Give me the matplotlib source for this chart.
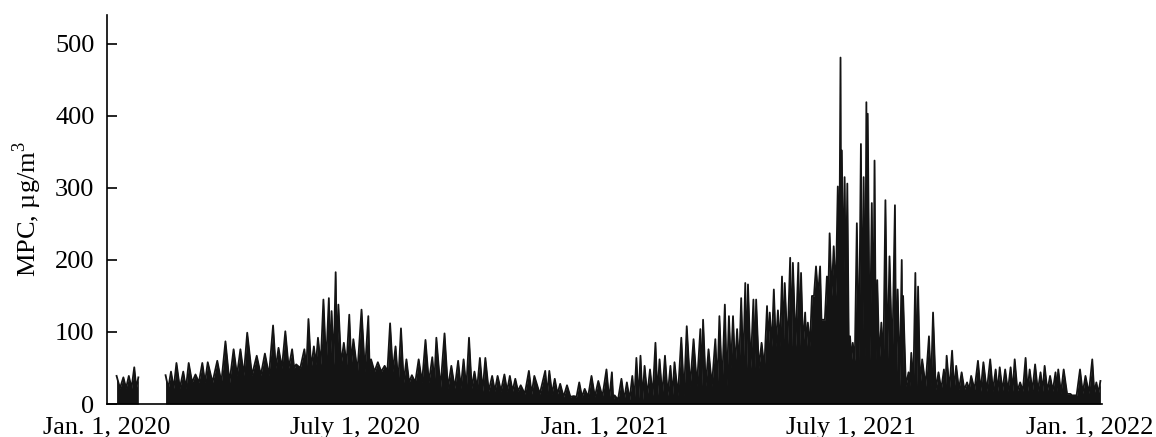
"""
MPC time series, Jan 2020 - Jan 2022, drawn as a dense spiky black trace.
"""
import numpy as np
import matplotlib
matplotlib.use("Agg")
import matplotlib.pyplot as plt

plt.rcParams['font.family'] = ['Liberation Serif', 'DejaVu Serif']
plt.rcParams['mathtext.fontset'] = 'custom'
plt.rcParams['mathtext.rm'] = 'Liberation Serif'

START = np.datetime64('2020-01-01')

# local maxima: day offset from Jan 1 2020, value in ug/m3
PEAK_DAYS_2020 = [7, 12, 16, 20, 23,
                  43, 47, 51, 56, 60, 65, 70, 74, 81, 87, 93, 98, 103, 110, 116,
                  122, 126, 131, 136, 139, 145, 148, 152, 155, 159, 163, 165, 168,
                  170, 174, 178, 181, 187, 192, 194, 199, 204, 208, 212, 216, 220,
                  224, 229, 234, 239, 242, 248, 253, 258, 262, 266, 270, 274, 278,
                  283, 287, 292, 296, 300, 304, 310, 314, 322, 325, 329, 333, 338,
                  343, 347, 351, 356, 361]
PEAK_VALS_2020 = [39, 37, 39, 51, 37,
                  40, 45, 57, 45, 57, 41, 57, 58, 60, 87, 76, 76, 99, 67, 70,
                  109, 78, 101, 76, 55, 76, 118, 80, 92, 145, 147, 129, 183,
                  138, 85, 124, 90, 131, 122, 62, 58, 53, 112, 80, 105, 62,
                  40, 62, 89, 65, 92, 98, 53, 60, 62, 92, 45, 64, 64,
                  39, 39, 41, 39, 35, 26, 46, 39, 46, 46, 35, 28, 26,
                  11, 30, 21, 39, 32]

PEAK_DAYS_2021 = [367, 371, 373, 378, 382, 386, 389, 392, 395, 399, 403, 406,
                  410, 414, 417, 422, 426, 431, 436, 438, 442, 447, 450, 454,
                  457, 460, 463, 466, 469, 471, 475, 477, 481, 485, 487, 490,
                  493, 496, 498, 502, 504, 508, 510, 513, 515, 518, 521, 524,
                  526, 529, 531, 534, 537, 539, 540, 542, 544, 546, 548, 551,
                  554, 556, 558, 559, 562, 564, 566, 569, 572, 575, 579, 581,
                  584, 585, 589, 591, 594, 596, 599, 604, 607, 611, 615, 617,
                  621, 624, 628, 632, 635, 640, 644, 649, 653, 656, 660, 664,
                  667, 671, 675, 678, 682, 686, 689, 693, 697, 699, 703, 708,
                  710, 715, 719, 724, 727, 730]
PEAK_VALS_2021 = [48, 44, 12, 35, 30, 39, 64, 67, 53, 48, 85, 62,
                  67, 53, 58, 92, 108, 90, 104, 117, 76, 90, 122, 138,
                  122, 122, 104, 147, 168, 166, 145, 145, 85, 136, 127, 159,
                  130, 177, 168, 203, 196, 196, 182, 127, 113, 150, 191, 191,
                  117, 177, 237, 219, 302, 481, 352, 315, 306, 94, 85, 251,
                  361, 315, 419, 403, 279, 338, 172, 113, 283, 205, 276, 159,
                  200, 150, 44, 71, 182, 163, 62, 94, 127, 44, 48, 67,
                  74, 53, 44, 30, 39, 60, 58, 62, 48, 51, 48, 51,
                  62, 30, 64, 48, 55, 44, 53, 39, 44, 48, 48, 14,
                  12, 48, 39, 62, 30, 32]

# level up to which the trace is mostly solid black, per calendar month
# (Jan 2020 .. Dec 2021)
MONTH_BODY = [22, 22, 30, 40, 50, 55, 45, 30, 22, 18, 14, 10,
              6, 12, 25, 50, 80, 150, 60, 25, 20, 18, 18, 15]

# no data between these day offsets
GAP = (24, 43)

# tick labels; the last one sits slightly left of its date, as in the source
TICK_DATES = ['2020-01-01', '2020-07-01', '2021-01-01', '2021-07-01', '2021-12-23']
TICK_LABELS = ['Jan. 1, 2020', 'July 1, 2020', 'Jan. 1, 2021',
               'July 1, 2021', 'Jan. 1, 2022']


def month_index(day):
    month = (START + int(day)).astype('datetime64[M]')
    return int((month - START.astype('datetime64[M]')).astype(int))


def zigzag(days, vals):
    """Trace that drops to the monthly body level between consecutive peaks."""
    xs, ys = [], []
    for i, (d, v) in enumerate(zip(days, vals)):
        xs.append(d)
        ys.append(v)
        if i + 1 < len(days):
            mid = 0.5 * (d + days[i + 1])
            xs.append(mid)
            ys.append(min(MONTH_BODY[month_index(mid)], v, vals[i + 1]))
    return np.array(xs, dtype=float), np.array(ys, dtype=float)


def to_dates(x_days):
    return START + (x_days * 24).astype('int64').astype('timedelta64[h]')


days = PEAK_DAYS_2020 + PEAK_DAYS_2021
vals = PEAK_VALS_2020 + PEAK_VALS_2021
split = next(i for i, d in enumerate(days) if d >= GAP[1])
segments = [(days[:split], vals[:split]), (days[split:], vals[split:])]

fig = plt.figure(figsize=(11.56, 4.37), dpi=100)
ax = fig.add_axes([0.0926, 0.0755, 0.8605, 0.89])
for seg_days, seg_vals in segments:
    xd, yv = zigzag(seg_days, seg_vals)
    xt = to_dates(xd)
    ax.fill_between(xt, 0, yv, color='#141414', linewidth=0)
    ax.plot(xt, yv, color='#141414', linewidth=1.3)

ax.set_xlim(np.datetime64('2020-01-01'), np.datetime64('2022-01-01'))
ax.set_ylim(0, 540)
ax.set_yticks([0, 100, 200, 300, 400, 500])
ax.set_xticks([np.datetime64(t) for t in TICK_DATES])
ax.set_xticklabels(TICK_LABELS)
ax.spines['top'].set_visible(False)
ax.spines['right'].set_visible(False)
ax.spines['left'].set_linewidth(1.2)
ax.spines['bottom'].set_linewidth(1.2)
ax.tick_params(axis='y', direction='in', length=7, width=1.2, pad=9, labelsize=19)
ax.tick_params(axis='x', length=0, pad=9, labelsize=19)
ax.set_ylabel('MPC, µg/m$^3$', fontsize=19, labelpad=8)

fig.savefig('out.png', dpi=100)
plt.close(fig)
